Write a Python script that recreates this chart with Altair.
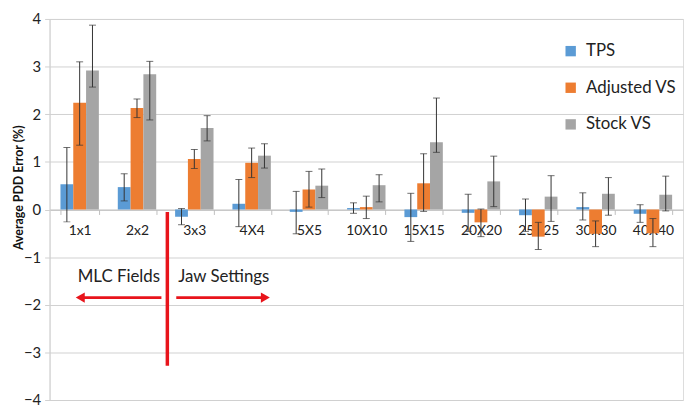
import altair as alt
import pandas as pd

categories = ["1x1", "2x2", "3x3", "4X4", "5X5", "10X10", "15X15", "20X20", "25X25", "30X30", "40X40"]
series_names = ["TPS", "Adjusted VS", "Stock VS"]
colors = ["#5B9BD5", "#ED7D31", "#A5A5A5"]

tps = [0.53, 0.47, -0.15, 0.12, -0.05, 0.03, -0.16, -0.07, -0.12, 0.05, -0.09]
tps_lo = [-0.26, 0.18, -0.32, -0.36, -0.51, -0.08, -0.67, -0.46, -0.46, -0.22, -0.27]
tps_hi = [1.30, 0.75, 0.02, 0.63, 0.38, 0.14, 0.34, 0.32, 0.22, 0.35, 0.10]

adj = [2.24, 2.13, 1.06, 0.98, 0.42, 0.05, 0.55, -0.27, -0.57, -0.51, -0.50]
adj_lo = [1.35, 1.93, 0.86, 0.67, 0.05, -0.19, -0.04, -0.57, -0.84, -0.78, -0.78]
adj_hi = [3.10, 2.32, 1.26, 1.29, 0.80, 0.28, 1.17, 0.01, -0.27, -0.24, -0.19]

stock = [2.92, 2.84, 1.71, 1.13, 0.50, 0.51, 1.41, 0.59, 0.27, 0.33, 0.31]
stock_lo = [2.57, 1.88, 1.44, 0.87, 0.25, 0.16, 1.20, 0.06, -0.25, -0.12, -0.03]
stock_hi = [3.87, 3.11, 1.97, 1.38, 0.85, 0.73, 2.34, 1.12, 0.71, 0.67, 0.70]

y_ticks = [-4, -3, -2, -1, 0, 1, 2, 3, 4]

rows = []
for name, vals, los, his in [
    ("TPS", tps, tps_lo, tps_hi),
    ("Adjusted VS", adj, adj_lo, adj_hi),
    ("Stock VS", stock, stock_lo, stock_hi),
]:
    for c, v, lo, hi in zip(categories, vals, los, his):
        rows.append({"cat": c, "series": name, "value": v, "lo": lo, "hi": hi})
df = pd.DataFrame(rows)

W, H = 640, 385
FONT = "Lato"
RED = "#E8141B"

x_enc = alt.X(
    "cat:N",
    sort=categories,
    scale=alt.Scale(paddingInner=0.33, paddingOuter=0.19),
    axis=alt.Axis(
        title=None,
        offset=-H / 2,
        labelAngle=0,
        labelFont=FONT,
        labelFontSize=14,
        labelColor="#222222",
        labelPadding=9,
        domainColor="#BFBFBF",
        tickColor="#BFBFBF",
        tickBand="extent",
        tickSize=5,
        grid=False,
    ),
)
xoff = alt.XOffset("series:N", sort=series_names, scale=alt.Scale(paddingInner=0, paddingOuter=0))
y_scale = alt.Scale(domain=[-4, 4], nice=False)

bars = alt.Chart(df).mark_bar().encode(
    x=x_enc,
    xOffset=xoff,
    y=alt.Y(
        "value:Q",
        scale=y_scale,
        axis=alt.Axis(
            title="Average PDD Error (%)",
            values=y_ticks,
            format="d",
            labelFont=FONT,
            labelFontSize=15,
            labelColor="#222222",
            labelPadding=4,
            titleFont=FONT,
            titleFontSize=12.5,
            titleFontWeight="bold",
            titleColor="#111111",
            titleBaseline="middle",
            titleX=-31,
            titleY=170,
            gridColor="#D0D0D0",
            domainColor="#D0D0D0",
            tickColor="#D0D0D0",
            tickSize=5,
        ),
    ),
    y2=alt.datum(0),
    color=alt.Color(
        "series:N",
        sort=series_names,
        scale=alt.Scale(domain=series_names, range=colors),
        legend=alt.Legend(
            title=None,
            orient="none",
            legendX=518,
            legendY=24,
            labelFont=FONT,
            labelFontSize=17,
            labelColor="#222222",
            symbolType="square",
            symbolSize=110,
            symbolStrokeWidth=0,
            rowPadding=19,
            labelOffset=7,
        ),
    ),
)

err = alt.Chart(df).mark_rule(color="#333333", strokeWidth=1).encode(
    x=alt.X("cat:N", sort=categories),
    xOffset=xoff,
    y=alt.Y("lo:Q", scale=y_scale),
    y2="hi:Q",
)
cap_lo = alt.Chart(df).mark_tick(color="#333333", thickness=1, size=7, orient="horizontal").encode(
    x=alt.X("cat:N", sort=categories),
    xOffset=xoff,
    y=alt.Y("lo:Q", scale=y_scale),
)
cap_hi = alt.Chart(df).mark_tick(color="#333333", thickness=1, size=7, orient="horizontal").encode(
    x=alt.X("cat:N", sort=categories),
    xOffset=xoff,
    y=alt.Y("hi:Q", scale=y_scale),
)

# Annotations
anno = pd.DataFrame({"k": [0]})
vline = alt.Chart(anno).mark_rule(color=RED, strokeWidth=3.5).encode(
    x=alt.value(119), y=alt.datum(-0.05), y2=alt.datum(-3.28)
)
left_arrow = alt.Chart(anno).mark_rule(color=RED, strokeWidth=3).encode(
    x=alt.value(32), x2=alt.value(113), y=alt.datum(-1.85)
)
right_arrow = alt.Chart(anno).mark_rule(color=RED, strokeWidth=3).encode(
    x=alt.value(128), x2=alt.value(217), y=alt.datum(-1.85)
)
left_head = alt.Chart(anno).mark_point(shape="triangle-left", filled=True, color=RED, size=110, opacity=1).encode(
    x=alt.value(31), y=alt.datum(-1.85)
)
right_head = alt.Chart(anno).mark_point(shape="triangle-right", filled=True, color=RED, size=110, opacity=1).encode(
    x=alt.value(218), y=alt.datum(-1.85)
)
mlc_text = alt.Chart(anno).mark_text(text="MLC Fields", font=FONT, fontSize=17, color="#222222").encode(
    x=alt.value(70), y=alt.datum(-1.42)
)
jaw_text = alt.Chart(anno).mark_text(text="Jaw Settings", font=FONT, fontSize=17, color="#222222").encode(
    x=alt.value(176), y=alt.datum(-1.42)
)

chart = alt.layer(
    bars, err, cap_lo, cap_hi, vline, left_arrow, right_arrow, left_head, right_head, mlc_text, jaw_text
).properties(
    width=W,
    height=H,
    autosize=alt.AutoSizeParams(type="none"),
    padding={"left": 42, "top": 9, "right": 2, "bottom": 8},
).configure_view(stroke=None).configure(background="white")

chart.save("out.html", embed_options={"renderer": "svg", "actions": False})
